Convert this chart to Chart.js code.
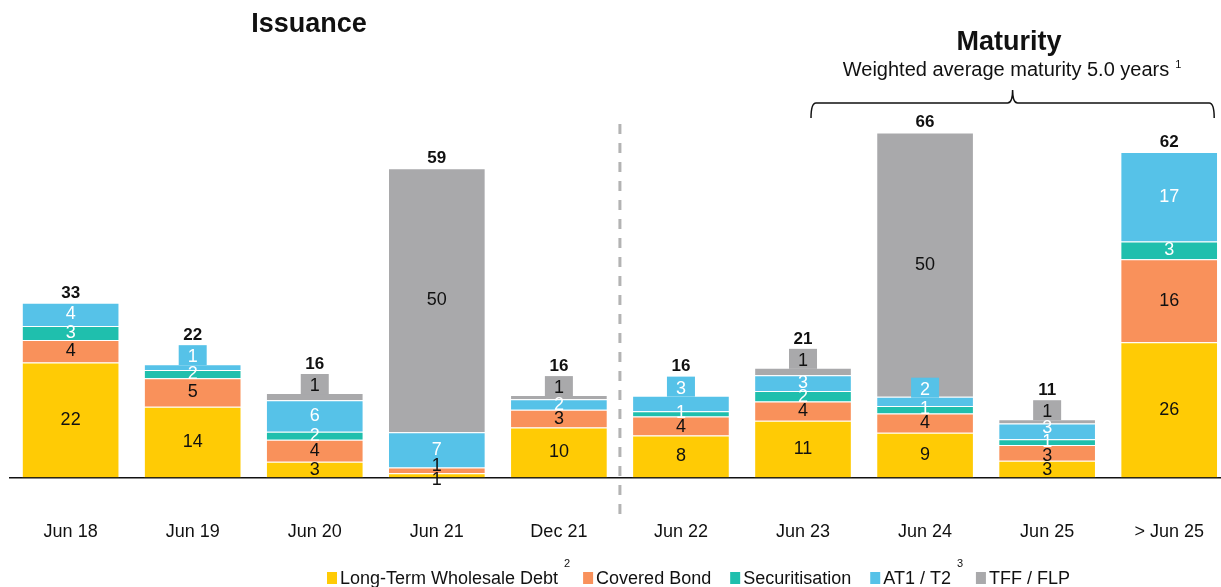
<!DOCTYPE html>
<html>
<head>
<meta charset="utf-8">
<script src="https://cdn.jsdelivr.net/npm/chart.js@4.4.1/dist/chart.umd.min.js"></script>
<style>
  html, body { margin: 0; padding: 0; background: #fff; }
  #wrap { width: 1221px; height: 587px; overflow: hidden; position: relative; }
  canvas { display: block; }
</style>
</head>
<body>
<div id="wrap"><canvas id="chart" width="1248" height="587" style="width:1248px;height:587px"></canvas></div>
<script>
// funding (GBP bn)
const categories = ['Jun 18', 'Jun 19', 'Jun 20', 'Jun 21', 'Dec 21', 'Jun 22', 'Jun 23', 'Jun 24', 'Jun 25', '> Jun 25']
const wholesaleDebt = [21.9, 13.5, 3.0, 0.8, 9.5, 8.0, 10.8, 8.5, 3.2, 25.8]
const coveredBond = [4.3, 5.4, 4.2, 1.1, 3.4, 3.6, 3.7, 3.7, 3.0, 15.8]
const securitisation = [2.7, 1.6, 1.5, 0, 0, 1.0, 2.0, 1.4, 1.1, 3.4]
const at1t2 = [4.4, 1.1, 6.0, 6.7, 2.0, 3.0, 3.0, 1.8, 3.0, 17.1]
const tffFlp = [0, 0, 1.4, 50.4, 0.8, 0, 1.4, 50.4, 0.8, 0]

const seriesNames = ['Long-Term Wholesale Debt', 'Covered Bond', 'Securitisation', 'AT1 / T2', 'TFF / FLP']
const seriesNotes = ['2', '', '', '3', '']
const colors = ['#FFCB05', '#F9915B', '#1FBFAD', '#56C2E8', '#A9A9AB']
const labelColors = ['#111', '#111', '#fff', '#fff', '#111']

const FONT = '"Liberation Sans", Arial, sans-serif'

const overlay = {
  id: 'overlay',
  afterDatasetsDraw(chart) {
    const ctx = chart.ctx
    const x = chart.scales.x
    const area = chart.chartArea
    ctx.save()

    // divider between issuance and maturity
    const midX = (x.getPixelForValue(4) + x.getPixelForValue(5)) / 2
    ctx.strokeStyle = '#b3b3b3'
    ctx.lineWidth = 3
    ctx.setLineDash([10, 9])
    ctx.beginPath()
    ctx.moveTo(midX, 124)
    ctx.lineTo(midX, 516)
    ctx.stroke()
    ctx.setLineDash([])

    // segment labels
    ctx.textAlign = 'center'
    ctx.textBaseline = 'middle'
    categories.forEach((cat, i) => {
      const segs = []
      chart.data.datasets.forEach((ds, d) => {
        const v = ds.data[i]
        if (!v) return
        const el = chart.getDatasetMeta(d).data[i]
        segs.push({ d, v, el, top: el.y, base: el.base, h: el.base - el.y })
      })
      segs.forEach((s, k) => {
        const above = segs[k + 1]
        s.boxed = (s.d >= 3) && s.h < 17 && (!above || above.h > 30)
        s.ly = s.boxed ? s.top - 7 : (s.top + s.base) / 2
      })
      // push apart labels that collide
      const free = segs.filter(s => !s.boxed)
      for (let it = 0; it < 20; it++) {
        for (let k = 0; k < free.length - 1; k++) {
          const gap = free[k].ly - free[k + 1].ly
          if (gap < 14) {
            const p = (14 - gap) / 2
            free[k].ly += p
            free[k + 1].ly -= p
          }
        }
      }
      let top = segs.length ? segs[segs.length - 1].top : area.bottom
      segs.forEach(s => {
        if (s.boxed) {
          ctx.fillStyle = colors[s.d]
          const bt = s.ly - 12
          ctx.fillRect(s.el.x - 14, bt, 28, s.top - bt + 1)
          top = Math.min(top, bt)
        }
      })
      ctx.font = '18px ' + FONT
      segs.forEach(s => {
        ctx.fillStyle = labelColors[s.d]
        ctx.fillText(String(Math.round(s.v)), s.el.x, s.ly)
      })
      const total = chart.data.datasets.reduce((a, ds) => a + (ds.data[i] || 0), 0)
      ctx.font = 'bold 17px ' + FONT
      ctx.fillStyle = '#111'
      ctx.fillText(String(Math.round(total)), segs[0].el.x, top - 10)
    })

    // section titles
    ctx.fillStyle = '#111'
    ctx.font = 'bold 27px ' + FONT
    ctx.fillText('Issuance', 309, 25)
    ctx.fillText('Maturity', 1009, 43)
    ctx.font = '20px ' + FONT
    const sub = 'Weighted average maturity 5.0 years'
    const sw = ctx.measureText(sub).width
    ctx.textAlign = 'left'
    ctx.fillText(sub, 1006 - sw / 2, 70)
    ctx.font = '11px ' + FONT
    ctx.fillText('1', 1006 + sw / 2 + 6, 65)

    // brace over the maturity bars
    const bl = x.getPixelForValue(6) + 8
    const br = x.getPixelForValue(9) + 45
    const bc = (bl + br) / 2
    ctx.strokeStyle = '#111'
    ctx.lineWidth = 1.5
    ctx.beginPath()
    ctx.moveTo(bl, 118)
    ctx.quadraticCurveTo(bl, 103, bl + 5, 103)
    ctx.lineTo(bc - 5, 103)
    ctx.quadraticCurveTo(bc, 103, bc, 90)
    ctx.quadraticCurveTo(bc, 103, bc + 5, 103)
    ctx.lineTo(br - 5, 103)
    ctx.quadraticCurveTo(br, 103, br, 118)
    ctx.stroke()

    // legend
    let lx = 327
    const ly = 579
    ctx.textBaseline = 'middle'
    seriesNames.forEach((name, d) => {
      ctx.fillStyle = colors[d]
      ctx.fillRect(lx, ly - 7, 10, 12)
      lx += 13
      ctx.fillStyle = '#111'
      ctx.font = '18px ' + FONT
      ctx.fillText(name, lx, ly)
      lx += ctx.measureText(name).width
      if (seriesNotes[d]) {
        ctx.font = '11px ' + FONT
        ctx.fillText(seriesNotes[d], lx + 6, ly - 15)
        lx += 6
      }
      lx += 19
    })
    ctx.restore()
  }
}

const seriesData = [wholesaleDebt, coveredBond, securitisation, at1t2, tffFlp]

new Chart(document.getElementById('chart'), {
  type: 'bar',
  data: {
    labels: categories,
    datasets: seriesData.map((data, d) => ({
      label: seriesNames[d],
      data: data,
      backgroundColor: colors[d],
      borderColor: 'rgba(255,255,255,0.55)',
      borderWidth: 1,
      borderSkipped: 'bottom',
      categoryPercentage: 1,
      barPercentage: 0.8
    }))
  },
  options: {
    responsive: false,
    devicePixelRatio: 1,
    animation: false,
    layout: {
      padding: { left: 9, right: 1, top: 100, bottom: 0 }
    },
    plugins: {
      legend: { display: false },
      tooltip: { enabled: false }
    },
    scales: {
      x: {
        stacked: true,
        grid: { display: false, drawTicks: false },
        border: { display: true, color: '#111', width: 1.5 },
        ticks: {
          color: '#111',
          padding: 44,
          font: { family: FONT, size: 18 }
        }
      },
      y: {
        stacked: true,
        display: false,
        min: 0,
        max: 72
      }
    }
  },
  plugins: [overlay]
})
</script>
</body>
</html>
